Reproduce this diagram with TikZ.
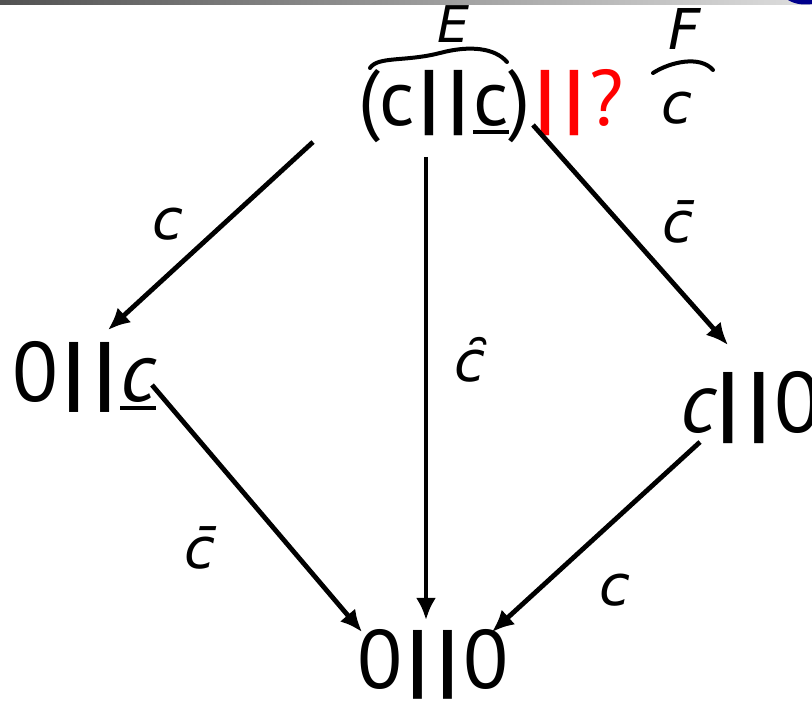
\documentclass[tikz,border=0pt]{standalone}
\usepackage{fontspec}
\setmainfont{PT Sans}
\newfontfamily\handfont{DejaVu Sans}
\usetikzlibrary{arrows.meta}
\newcommand\pbar{{\kern0.07em\bfseries|\kern0.07em}}
\newcommand\undl[1]{\setbox0\hbox{#1}\rlap{\rule[-6pt]{\wd0}{3pt}}\box0}

\begin{document}
\begin{tikzpicture}[x=0.025cm, y=-0.025cm,
		tm/.style	= {inner sep=0pt, anchor=base west},
		ar/.style	= {-{Latex[length=0.55cm, width=0.5cm]}, line width=0.12cm},
		hw/.style	= {inner sep=0pt, font=\handfont\itshape\fontsize{40}{40}\selectfont},
		ink/.style	= {line width=0.1cm, line cap=round, line join=round},
		]
		\useasboundingbox (0,0) rectangle (812,702);
		
		% === === Header strip === ===
		\shade[left color=black!68, right color=black!13] (0,0) rectangle (812,5);
		\fill[blue!55!black] (788,0) .. controls (796,5) and (806,5) .. (812,4) -- (812,0) -- cycle;
		
		% === === Nodes === ===
		\node[tm, font=\fontsize{56}{56}\selectfont]		(top)	at	(358,126)	{(c\pbar\pbar\undl{c})};
		\node[tm, red, font=\fontsize{56}{56}\selectfont]	(qry)	at	(top.base east)	{\pbar\pbar?};
		\node[tm, font=\fontsize{60}{60}\selectfont]		(lft)	at	(12,402)	{0\pbar\pbar\undl{\itshape c}};
		\node[tm, font=\fontsize{61}{61}\selectfont]		(rgt)	at	(680,433)	{{\itshape c}\kern-0.05em\pbar\pbar0};
		\node[tm, font=\fontsize{59}{59}\selectfont]		(bot)	at	(357,688)	{0\pbar\pbar0};
		
		% === === Handwritten labels === ===
		\node[hw, font=\handfont\itshape\fontsize{36}{36}\selectfont]	(lE)	at	(453,24)	{E};
		\node[hw]	(lF)	at	(685,29)	{F};
		\node[hw]	(lc0)	at	(677,108)	{c};
		\node[hw]	(lc1)	at	(168,224)	{c};
		\node[hw]	(lc2)	at	(678,222)	{c^^^^0304};
		\node[hw]	(lc3)	at	(470,360)	{c^^^^0311};
		\node[hw]	(lc4)	at	(200,548)	{c^^^^0304};
		\node[hw]	(lc5)	at	(615,590)	{c};
		
		\draw[ink]	(370,68) .. controls (378,56) and (405,62) .. (440,53) .. controls (470,45) and (495,48) .. (507,62);
		\draw[ink]	(653,73) .. controls (670,62) and (700,55) .. (713,70);
		
		% === === Arrows === ===
		\draw[ar]	([shift={(-45,16)}]top.base west)	--	([shift={(96,-72)}]lft.base west);
		\draw[ar]	([shift={(68,31)}]top.base west)	--	([shift={(69,-68)}]bot.base west);
		\draw[ar]	([shift={(175,-1)}]top.base west)	--	([shift={(48,-88)}]rgt.base west);
		\draw[ar]	([shift={(140,-17)}]lft.base west)	--	([shift={(5,-56)}]bot.base west);
		\draw[ar]	([shift={(20,9)}]rgt.base west)	--	([shift={(135,-56)}]bot.base west);
		
	\end{tikzpicture}
\end{document}
